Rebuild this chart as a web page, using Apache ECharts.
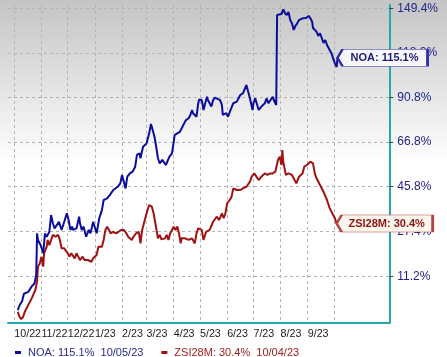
<!DOCTYPE html>
<html><head><meta charset="utf-8">
<script src="https://cdn.jsdelivr.net/npm/echarts@6/dist/echarts.min.js"></script>
<style>html,body{margin:0;padding:0;background:#fff}#c{width:447px;height:357px}</style>
</head><body><div id="c"></div>
<script>
// ---- data (percent change) ----
const noaDates = ['2022-10-05','2022-10-07','2022-10-10','2022-10-11','2022-10-12','2022-10-14','2022-10-17','2022-10-21','2022-10-24','2022-10-26','2022-10-27','2022-10-28','2022-10-31','2022-11-01','2022-11-03','2022-11-05','2022-11-07','2022-11-10','2022-11-12','2022-11-14','2022-11-16','2022-11-18','2022-11-21','2022-11-24','2022-11-27','2022-11-30','2022-12-02','2022-12-04','2022-12-06','2022-12-07','2022-12-11','2022-12-14','2022-12-15','2022-12-17','2022-12-19','2022-12-22','2022-12-25','2022-12-27','2022-12-30','2023-01-01','2023-01-03','2023-01-04','2023-01-06','2023-01-09','2023-01-11','2023-01-15','2023-01-16','2023-01-18','2023-01-22','2023-01-24','2023-01-27','2023-01-30','2023-02-01','2023-02-03','2023-02-05','2023-02-07','2023-02-10','2023-02-13','2023-02-16','2023-02-18','2023-02-21','2023-02-22','2023-02-25','2023-02-27','2023-03-01','2023-03-04','2023-03-06','2023-03-08','2023-03-10','2023-03-12','2023-03-14','2023-03-16','2023-03-19','2023-03-21','2023-03-23','2023-03-25','2023-03-27','2023-03-30','2023-04-01','2023-04-02','2023-04-05','2023-04-08','2023-04-10','2023-04-13','2023-04-15','2023-04-18','2023-04-20','2023-04-22','2023-04-23','2023-04-25','2023-04-27','2023-04-29','2023-04-30','2023-05-03','2023-05-05','2023-05-07','2023-05-09','2023-05-10','2023-05-12','2023-05-14','2023-05-16','2023-05-18','2023-05-20','2023-05-24','2023-05-26','2023-05-27','2023-05-29','2023-05-31','2023-06-02','2023-06-04','2023-06-08','2023-06-10','2023-06-12','2023-06-14','2023-06-16','2023-06-18','2023-06-19','2023-06-21','2023-06-23','2023-06-25','2023-06-27','2023-06-29','2023-06-30','2023-07-01','2023-07-03','2023-07-05','2023-07-07','2023-07-09','2023-07-10','2023-07-12','2023-07-14','2023-07-16','2023-07-18','2023-07-20','2023-07-23','2023-07-25','2023-07-27','2023-07-28','2023-07-30','2023-08-02','2023-08-04','2023-08-06','2023-08-08','2023-08-10','2023-08-12','2023-08-14','2023-08-16','2023-08-18','2023-08-20','2023-08-22','2023-08-24','2023-08-26','2023-08-28','2023-08-30','2023-08-31','2023-09-02','2023-09-04','2023-09-06','2023-09-07','2023-09-09','2023-09-11','2023-09-13','2023-09-15','2023-09-17','2023-09-19','2023-09-21','2023-09-23','2023-09-24','2023-09-26','2023-09-28','2023-09-30','2023-10-02','2023-10-04','2023-10-05'];
const noaValues = [0.4,1.9,3.2,4.4,5.5,4.9,6.1,7.9,8.8,11.6,26.6,24.1,22.2,22.8,19.2,26.6,25.3,27.2,33.8,30.5,28.5,27.9,31.1,27.9,31.1,34.5,31.8,27.9,29.2,27.9,28.5,33.1,30.5,27.9,29.2,25.3,27.9,26.6,31.1,31.8,26.6,26.0,32.5,35.8,40.0,40.7,40.0,42.1,44.3,45.0,45.7,47.2,51.0,48.0,45.0,50.2,51.7,52.5,54.8,60.4,61.2,58.8,64.4,65.3,66.1,71.2,76.1,72.9,69.5,64.4,58.8,56.4,58.0,58.0,55.6,56.4,59.5,61.2,66.9,70.3,71.2,72.0,73.8,76.5,78.2,79.2,81.0,83.7,81.9,82.8,80.0,87.5,89.7,89.3,83.7,87.6,91.2,89.3,89.3,85.6,89.3,90.7,91.1,89.3,86.5,81.0,80.4,82.0,80.0,82.6,87.5,87.2,88.4,90.3,92.2,91.2,93.2,93.2,98.1,94.1,90.3,90.3,83.7,87.5,90.3,89.3,83.7,82.8,85.6,84.7,87.5,90.3,87.5,88.4,91.1,88.4,86.5,144.7,143.3,145.4,148.9,146.2,144.7,147.0,141.0,138.6,133.9,136.9,138.6,141.0,141.0,142.3,141.0,142.5,143.3,144.0,142.3,139.8,135.3,133.9,132.7,129.7,131.5,128.3,124.9,126.9,123.5,124.7,120.2,118.0,114.7,111.5,109.2,115.1];

const zsiDates = ['2022-10-05','2022-10-07','2022-10-09','2022-10-11','2022-10-13','2022-10-17','2022-10-21','2022-10-25','2022-10-27','2022-10-28','2022-10-30','2022-11-01','2022-11-03','2022-11-04','2022-11-07','2022-11-08','2022-11-10','2022-11-12','2022-11-14','2022-11-17','2022-11-20','2022-11-22','2022-11-24','2022-11-25','2022-11-27','2022-11-29','2022-12-01','2022-12-03','2022-12-05','2022-12-07','2022-12-09','2022-12-11','2022-12-13','2022-12-15','2022-12-16','2022-12-18','2022-12-20','2022-12-22','2022-12-24','2022-12-26','2022-12-28','2022-12-30','2023-01-01','2023-01-03','2023-01-05','2023-01-07','2023-01-09','2023-01-11','2023-01-13','2023-01-15','2023-01-17','2023-01-19','2023-01-22','2023-01-25','2023-01-28','2023-01-31','2023-02-02','2023-02-03','2023-02-06','2023-02-08','2023-02-10','2023-02-12','2023-02-14','2023-02-17','2023-02-20','2023-02-21','2023-02-22','2023-02-24','2023-02-26','2023-03-01','2023-03-04','2023-03-07','2023-03-09','2023-03-11','2023-03-13','2023-03-14','2023-03-16','2023-03-18','2023-03-20','2023-03-22','2023-03-24','2023-03-26','2023-03-28','2023-03-30','2023-04-01','2023-04-03','2023-04-05','2023-04-07','2023-04-09','2023-04-10','2023-04-12','2023-04-14','2023-04-16','2023-04-18','2023-04-20','2023-04-22','2023-04-23','2023-04-25','2023-04-27','2023-04-29','2023-05-03','2023-05-05','2023-05-08','2023-05-12','2023-05-16','2023-05-20','2023-05-23','2023-05-26','2023-05-28','2023-05-30','2023-06-01','2023-06-04','2023-06-06','2023-06-08','2023-06-10','2023-06-12','2023-06-16','2023-06-19','2023-06-23','2023-06-25','2023-06-27','2023-06-29','2023-07-02','2023-07-04','2023-07-07','2023-07-10','2023-07-14','2023-07-17','2023-07-20','2023-07-23','2023-07-26','2023-07-27','2023-07-29','2023-07-31','2023-08-02','2023-08-03','2023-08-04','2023-08-07','2023-08-10','2023-08-14','2023-08-16','2023-08-19','2023-08-22','2023-08-26','2023-08-28','2023-08-31','2023-09-04','2023-09-07','2023-09-09','2023-09-11','2023-09-13','2023-09-15','2023-09-17','2023-09-19','2023-09-21','2023-09-23','2023-09-24','2023-09-26','2023-09-29','2023-10-02','2023-10-04'];
const zsiValues = [-0.1,-1.6,-2.3,-1.6,-0.1,2.0,4.1,6.7,9.5,14.5,15.6,18.0,14.5,19.2,21.6,24.1,22.2,24.1,26.0,25.3,26.0,24.1,21.0,21.6,21.0,20.4,19.2,18.0,19.2,18.6,17.4,19.2,18.0,16.8,17.4,18.0,16.8,17.4,16.8,16.2,16.2,17.4,18.0,18.6,21.6,22.2,21.6,24.1,27.9,29.2,27.9,26.6,27.2,26.6,27.2,27.9,28.5,27.9,26.6,25.3,24.7,24.1,25.3,26.6,27.2,25.3,22.8,27.9,30.5,34.5,37.9,37.2,34.5,30.5,26.6,24.7,26.0,24.3,24.1,24.7,26.0,24.1,26.6,27.9,29.2,27.9,29.2,26.6,22.8,24.7,24.1,24.7,24.7,24.1,24.1,24.7,24.1,22.8,26.6,28.5,27.9,24.1,27.2,27.9,31.1,33.1,31.8,34.5,32.5,34.5,38.6,40.0,41.4,45.0,45.0,44.3,44.3,45.0,45.7,45.7,48.0,50.2,51.7,51.0,48.7,50.2,51.7,51.0,51.7,51.7,52.5,53.3,58.0,59.5,55.6,62.8,57.2,51.0,51.7,51.0,50.2,47.2,50.2,51.7,54.8,55.6,57.2,56.4,51.7,49.5,48.7,46.5,45.7,43.5,42.9,40.0,40.0,36.6,34.5,32.5,30.4];

const xTickDates = ['2022-10-01','2022-11-01','2022-12-01','2023-01-01','2023-02-01','2023-03-01','2023-04-01','2023-05-01','2023-06-01','2023-07-01','2023-08-01','2023-09-01','2023-10-01'];
const xLabelDates = ['2022-10-01','2022-11-01','2022-12-01','2023-01-01','2023-02-01','2023-03-01','2023-04-01','2023-05-01','2023-06-01','2023-07-01','2023-08-01','2023-09-01'];
const yTickPct = [11.2, 27.4, 45.8, 66.8, 90.8, 118.2, 149.4];

const seriesNames = ['NOA', 'ZSI28M'];

// ---- helpers ----
const FONT = 'Liberation Sans';
const parseDate = s => { const [y, m, d] = s.split('-').map(Number); return new Date(y, m - 1, d).getTime(); };
const logG = p => Math.log(1 + p / 100);          // log-scaled growth axis
const invG = v => (Math.exp(v) - 1) * 100;
const fmtDate = s => { const [y, m, d] = s.split('-'); return m + '/' + d + '/' + y.slice(2); };

const BLUE = '#0c0c9c', RED = '#a01212';
const noaData = noaDates.map((d, i) => [parseDate(d), logG(noaValues[i])]);
const zsiData = zsiDates.map((d, i) => [parseDate(d), logG(zsiValues[i])]);
const lastNoa = noaValues[noaValues.length - 1], lastZsi = zsiValues[zsiValues.length - 1];
const legendText = {
  NOA: `NOA: ${lastNoa.toFixed(1)}%  ${fmtDate(noaDates[noaDates.length - 1])}`,
  ZSI28M: `ZSI28M: ${lastZsi.toFixed(1)}%  ${fmtDate(zsiDates[zsiDates.length - 1])}`
};

const DAY = 864e5;
const base = parseDate('2022-10-01');
const xMin = base - 7.2 * DAY, xMax = base + 428.1 * DAY;

function endTag(data, text, w, fill, border, color) {
  return {
    silent: true,
    symbol: `path://M0,8.5L5,0L${w},0L${w},17L5,17Z`,
    symbolSize: [w, 17],
    symbolKeepAspect: false,
    symbolOffset: [w / 2, 0],
    itemStyle: { color: fill, borderColor: border, borderWidth: 1.2 },
    label: { show: true, position: 'inside', formatter: text, color: color, fontFamily: FONT, fontWeight: 'bold', fontSize: 11, offset: [2, 0] },
    data: [{ coord: data[data.length - 1] }]
  };
}

const chart = echarts.init(document.getElementById('c'), null, { renderer: 'canvas' });
chart.setOption({
  animation: false,
  graphic: [{
    type: 'rect', left: 0, top: 0, z: -10, silent: true,
    shape: { width: 447, height: 357 },
    style: { fill: new echarts.graphic.LinearGradient(0, 0, 0, 1, [
      { offset: 0, color: '#c4c4c4' }, { offset: 0.46, color: '#ffffff' }, { offset: 1, color: '#ffffff' }]) }
  }],
  grid: { left: 8, right: 57.7, top: 5, bottom: 34.3, containLabel: false, outerBoundsMode: 'none' },
  xAxis: {
    type: 'value', min: xMin, max: xMax, scale: true,
    axisLine: { show: true, onZero: false, lineStyle: { color: '#27a8a8', width: 2 } },
    axisTick: { show: false, customValues: xTickDates.map(parseDate) },
    splitLine: { show: true, lineStyle: { color: '#b4b4b4', type: [3, 3], width: 1 } },
    axisLabel: {
      customValues: xLabelDates.map(parseDate), align: 'left', margin: 6,
      showMinLabel: true, showMaxLabel: true, hideOverlap: false,
      color: '#1a1a1a', fontFamily: FONT, fontSize: 10.7,
      formatter: v => { const d = new Date(v); return (d.getMonth() + 1) + '/' + String(d.getFullYear()).slice(2); }
    }
  },
  yAxis: {
    type: 'value', position: 'right', min: -0.0339, max: 0.9251, scale: true,
    axisLine: { show: true, onZero: false, lineStyle: { color: '#27a8a8', width: 2 } },
    axisTick: { show: true, length: 4, lineStyle: { color: '#444' }, customValues: yTickPct.map(logG) },
    splitLine: { show: true, lineStyle: { color: '#b4b4b4', type: [3, 3], width: 1 } },
    axisLabel: {
      customValues: yTickPct.map(logG), margin: 8, color: '#23238c', fontFamily: FONT, fontSize: 12,
      showMinLabel: true, showMaxLabel: true,
      formatter: v => invG(v).toFixed(1) + '%'
    }
  },
  legend: {
    left: 10, top: 342, icon: 'rect', itemWidth: 6, itemHeight: 3, itemGap: 18,
    data: [{ name: 'NOA', textStyle: { color: '#2a2a8e' } }, { name: 'ZSI28M', textStyle: { color: '#a42222' } }],
    formatter: n => legendText[n],
    textStyle: { fontFamily: FONT, fontSize: 11, padding: [0, 0, 0, 2] }
  },
  series: [
    { name: seriesNames[0], type: 'line', data: noaData, showSymbol: false, color: BLUE,
      lineStyle: { width: 2, color: BLUE }, z: 3,
      markPoint: endTag(noaData, `NOA: ${lastNoa.toFixed(1)}%`, 90, '#f7f7fd', '#2b2ba8', '#1c1c6e') },
    { name: seriesNames[1], type: 'line', data: zsiData, showSymbol: false, color: RED,
      lineStyle: { width: 2, color: RED }, z: 2,
      markPoint: endTag(zsiData, `ZSI28M: ${lastZsi.toFixed(1)}%`, 96, '#fdf6ec', '#b24444', '#8c1414') }
  ]
});
</script></body></html>
